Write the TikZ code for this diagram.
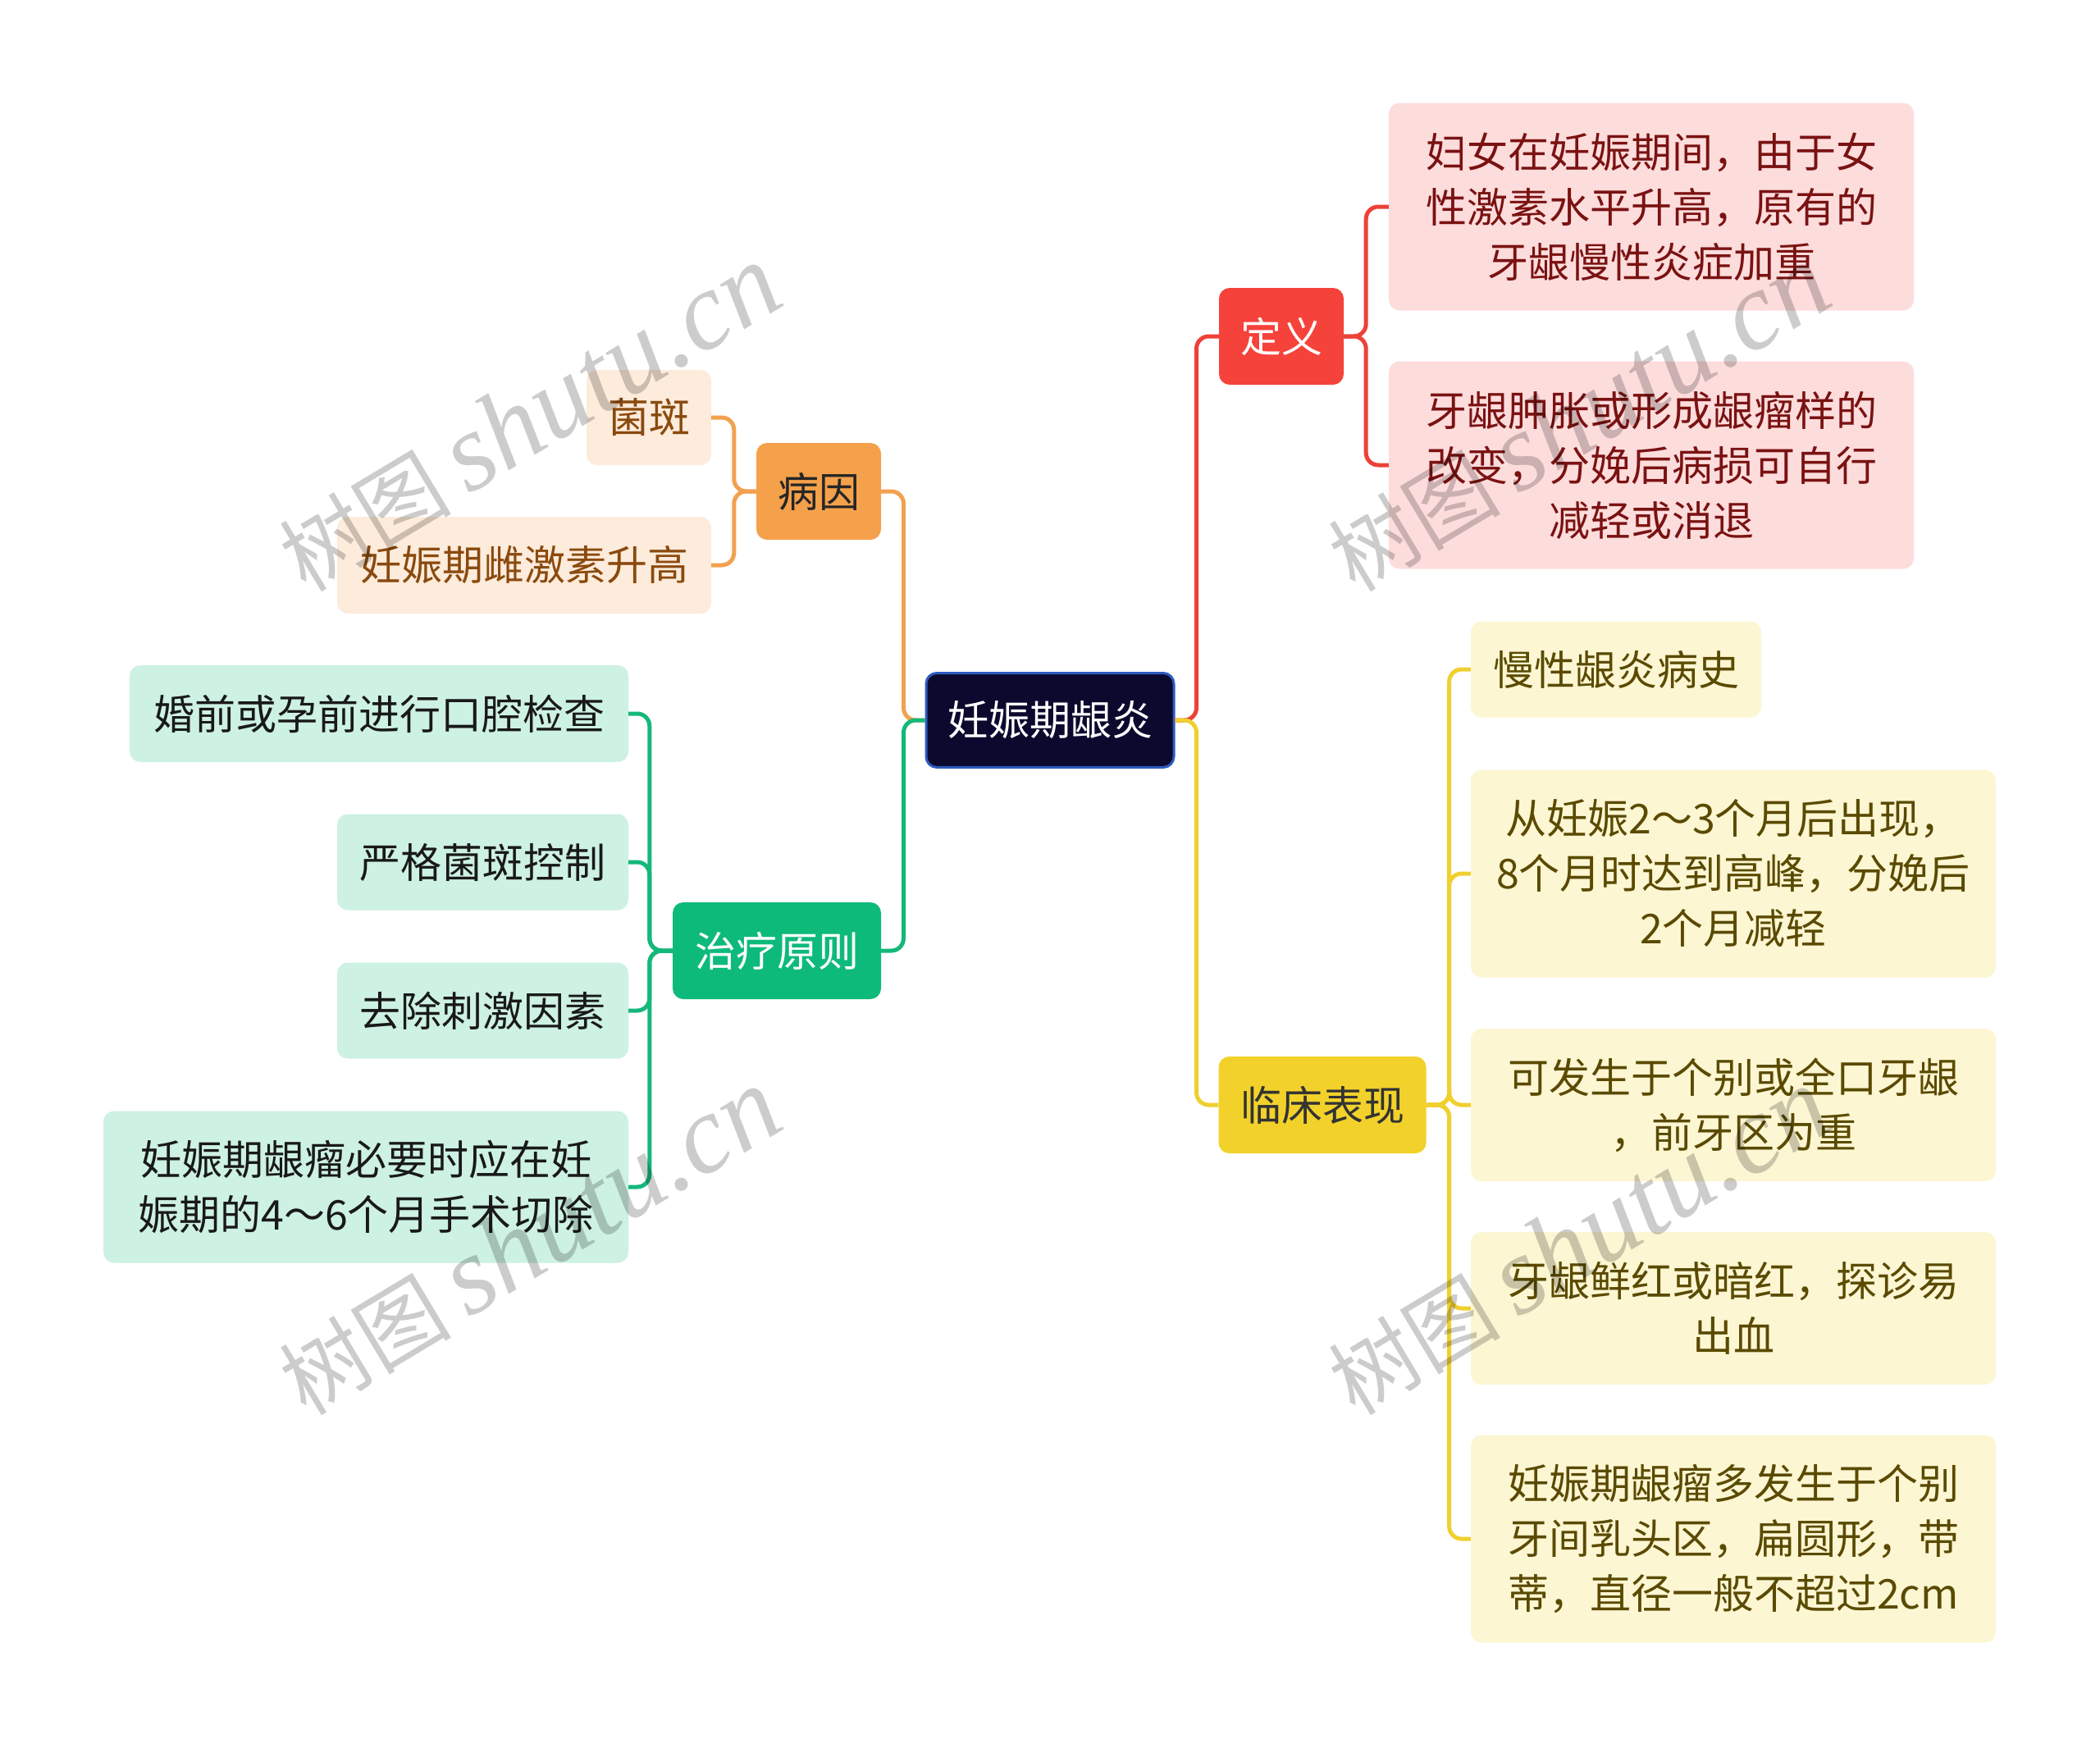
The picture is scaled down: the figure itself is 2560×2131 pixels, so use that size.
\documentclass[tikz,border=0pt]{standalone}
\usepackage{fontspec}
\newfontfamily\cjk{Noto Sans CJK SC}
\newfontfamily\wmserif{Liberation Serif}
\definecolor{rootfill}{HTML}{0B0A2E}
\definecolor{rootborder}{HTML}{2D5BBE}
\definecolor{redmain}{HTML}{F5433B}
\definecolor{redline}{HTML}{EE4138}
\definecolor{redsub}{HTML}{FDDCDC}
\definecolor{redtext}{HTML}{7A1212}
\definecolor{orgmain}{HTML}{F5A14B}
\definecolor{orgline}{HTML}{F2A14F}
\definecolor{orgsub}{HTML}{FDEBDB}
\definecolor{orgtext}{HTML}{8A4A0E}
\definecolor{grnmain}{HTML}{0DBA7A}
\definecolor{grnline}{HTML}{14B87A}
\definecolor{grnsub}{HTML}{CDF1E2}
\definecolor{yelmain}{HTML}{F2D22A}
\definecolor{yelline}{HTML}{EFD02E}
\definecolor{yelsub}{HTML}{FCF6D3}
\definecolor{yeltext}{HTML}{5A4A00}
\begin{document}
\begin{tikzpicture}[x=1pt,y=-1pt,
  box/.style={rounded corners=13pt, inner sep=0pt, align=center,
    font=\cjk\fontsize{50}{67}\selectfont},
  conn/.style={line width=5pt, rounded corners=15pt},
  wm/.style={text=black, opacity=0.2, inner sep=0pt}
]
\fill[white] (0,0) rectangle (2560,2131);
\useasboundingbox (0,0) rectangle (2560,2131);

% root
\node[box, fill=rootfill, draw=rootborder, line width=3pt, text=white,
  minimum width=302, minimum height=115] (root) at (1280,878) {妊娠期龈炎};

% definition branch
\node[box, fill=redmain, text=white, minimum width=152, minimum height=118] (def) at (1562,410) {定义};
\node[box, fill=redsub, text=redtext, minimum width=640, minimum height=253] (def1) at (2013,252)
  {妇女在妊娠期间，由于女\\性激素水平升高，原有的\\牙龈慢性炎症加重};
\node[box, fill=redsub, text=redtext, minimum width=640, minimum height=253] (def2) at (2013,567)
  {牙龈肿胀或形成龈瘤样的\\改变，分娩后病损可自行\\减轻或消退};

% cause branch
\node[box, fill=orgmain, text=black!85, minimum width=152, minimum height=118] (cause) at (998,599) {病因};
\node[box, fill=orgsub, text=orgtext, minimum width=152, minimum height=116] (c1) at (791,509) {菌斑};
\node[box, fill=orgsub, text=orgtext, minimum width=456, minimum height=118] (c2) at (639,689) {妊娠期雌激素升高};

% treatment branch
\node[box, fill=grnmain, text=white, minimum width=254, minimum height=118] (treat) at (947,1159) {治疗原则};
\node[box, fill=grnsub, text=black!90, minimum width=608, minimum height=118] (t1) at (462,870) {婚前或孕前进行口腔检查};
\node[box, fill=grnsub, text=black!90, minimum width=355, minimum height=117] (t2) at (588.5,1051) {严格菌斑控制};
\node[box, fill=grnsub, text=black!90, minimum width=355, minimum height=117] (t3) at (588.5,1232) {去除刺激因素};
\node[box, fill=grnsub, text=black!90, minimum width=640, minimum height=185] (t4) at (446,1447)
  {妊娠期龈瘤必要时应在妊\\娠期的4～6个月手术切除};

% clinical branch
\node[box, fill=yelmain, text=black!80, minimum width=253, minimum height=118] (clin) at (1612,1347) {临床表现};
\node[box, fill=yelsub, text=yeltext, minimum width=354, minimum height=117] (k1) at (1970,816) {慢性龈炎病史};
\node[box, fill=yelsub, text=yeltext, minimum width=640, minimum height=253] (k2) at (2113,1065)
  {从妊娠2～3个月后出现，\\8个月时达到高峰，分娩后\\2个月减轻};
\node[box, fill=yelsub, text=yeltext, minimum width=640, minimum height=186] (k3) at (2113,1347)
  {可发生于个别或全口牙龈\\，前牙区为重};
\node[box, fill=yelsub, text=yeltext, minimum width=640, minimum height=186] (k4) at (2113,1595)
  {牙龈鲜红或暗红，探诊易\\出血};
\node[box, fill=yelsub, text=yeltext, minimum width=640, minimum height=253] (k5) at (2113,1876)
  {妊娠期龈瘤多发生于个别\\牙间乳头区，扁圆形，带\\蒂，直径一般不超过2cm};

% connectors
\draw[conn, redline] (root.east) -- ++(26,0) |- (def.west);
\draw[conn, yelline] (root.east) -- ++(26,0) |- (clin.west);
\draw[conn, orgline] (root.west) -- ++(-26,0) |- (cause.east);
\draw[conn, grnline] (root.west) -- ++(-26,0) |- (treat.east);

\draw[conn, redline] (def.east) -- ++(27,0) |- (def1.west);
\draw[conn, redline] (def.east) -- ++(27,0) |- (def2.west);

\draw[conn, orgline] (cause.west) -- ++(-27,0) |- (c1.east);
\draw[conn, orgline] (cause.west) -- ++(-27,0) |- (c2.east);

\foreach \n in {t1,t2,t3,t4}
  \draw[conn, grnline] (treat.west) -- ++(-28,0) |- (\n.east);

\foreach \n in {k1,k2,k3,k4,k5}
  \draw[conn, yelline] (clin.east) -- ++(28,0) |- (\n.west);

% watermarks
\foreach \p/\q in {645/510, 645/1514, 1924/510, 1924/1514}
  \node[wm, rotate=31] at (\p,\q)
    {{\cjk\fontsize{105}{110}\selectfont 树图}\hspace{22pt}{\wmserif\itshape\fontsize{135}{140}\selectfont shutu.cn}};
\end{tikzpicture}
\end{document}
